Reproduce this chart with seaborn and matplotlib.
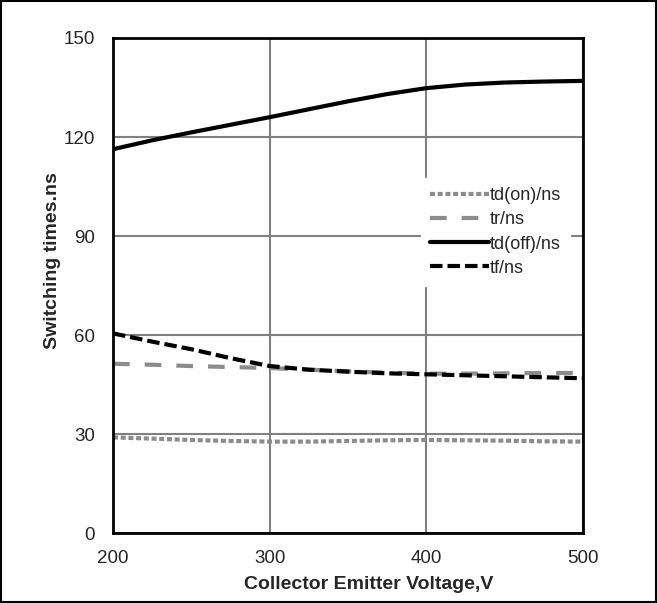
import matplotlib
matplotlib.use("Agg")
import matplotlib.pyplot as plt
import seaborn as sns
import pandas as pd
from matplotlib.patches import Rectangle

voltage = [200, 225, 250, 275, 300, 325, 350, 375, 400, 425, 450, 475, 500]
td_on = [29.0, 28.6, 28.2, 27.9, 27.7, 27.7, 27.9, 28.1, 28.2, 28.1, 28.0, 27.8, 27.7]
tr = [51.3, 51.0, 50.6, 50.3, 50.0, 49.5, 49.0, 48.6, 48.3, 48.3, 48.4, 48.5, 48.5]
td_off = [116.3, 119.0, 121.4, 123.7, 126.0, 128.4, 130.8, 133.0, 134.8, 135.9, 136.5, 136.8, 137.0]
tf = [60.5, 58.0, 55.7, 53.0, 50.6, 49.5, 48.9, 48.4, 48.1, 47.8, 47.5, 47.2, 46.9]

series_names = ["td(on)/ns", "tr/ns", "td(off)/ns", "tf/ns"]
series_vals = [td_on, tr, td_off, tf]
x_ticks = [200, 300, 400, 500]
y_ticks = [0, 30, 60, 90, 120, 150]

rows = []
for name, vals in zip(series_names, series_vals):
    for v, y in zip(voltage, vals):
        rows.append({"V": v, "t": y, "series": name})
df = pd.DataFrame(rows)

sns.set_style("white")
plt.rcParams["font.family"] = ["Liberation Sans", "DejaVu Sans"]

fig = plt.figure(figsize=(6.57, 6.03), dpi=100)
ax = fig.add_axes([0.172, 0.116, 0.715, 0.821])

styles = {
    "td(on)/ns": dict(color="#8c8c8c", ls=(0, (1.2, 0.65)), lw=3.0),
    "tr/ns": dict(color="#8c8c8c", ls=(0, (4.0, 3.6)), lw=3.0),
    "td(off)/ns": dict(color="black", ls="-", lw=3.0),
    "tf/ns": dict(color="black", ls=(0, (3.0, 1.2)), lw=3.0),
}
for name in series_names:
    sub = df[df["series"] == name]
    st = styles[name]
    sns.lineplot(data=sub, x="V", y="t", ax=ax, color=st["color"],
                 linestyle=st["ls"], linewidth=st["lw"], label=name)

ax.set_xlim(200, 500)
ax.set_ylim(0, 150)
ax.set_xticks(x_ticks)
ax.set_yticks(y_ticks)
ax.tick_params(axis="y", labelsize=13.5, length=0, pad=13)
ax.tick_params(axis="x", labelsize=13.5, length=0, pad=12)
ax.grid(True, color="#808080", lw=1.5)
ax.set_axisbelow(True)
for s in ax.spines.values():
    s.set_color("black")
    s.set_linewidth(2)
ax.set_xlabel("Collector Emitter Voltage,V", fontsize=14, fontweight="bold")
ax.set_ylabel("Switching times.ns", fontsize=14, fontweight="bold")
ax.xaxis.set_label_coords(0.545, -0.087)
ax.yaxis.set_label_coords(-0.11, 0.55)

leg = ax.legend(loc="upper left", bbox_to_anchor=(0.656, 0.717), borderaxespad=0,
                frameon=True, fancybox=False, framealpha=1, edgecolor="white",
                fontsize=13, handlelength=3.25, handletextpad=0.05,
                labelspacing=0.4, borderpad=0.5)

fig.patches.append(Rectangle((0.002, 0.002), 0.996, 0.996, transform=fig.transFigure,
                             fill=False, edgecolor="black", lw=1.5))
fig.savefig("out.png", dpi=100)
